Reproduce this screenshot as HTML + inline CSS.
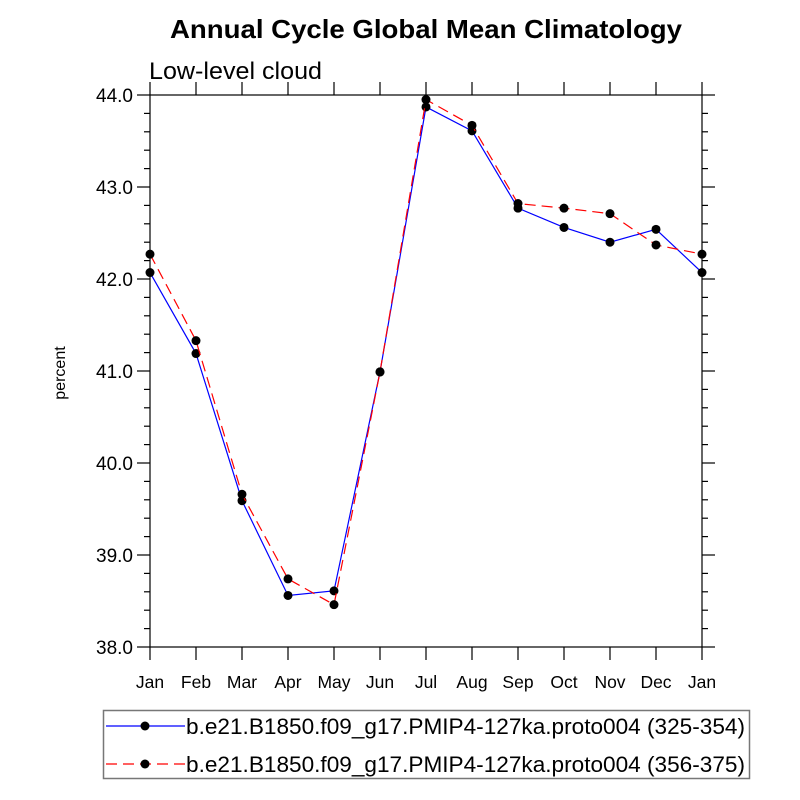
<!DOCTYPE html>
<html><head><meta charset="utf-8"><style>
body{margin:0;background:#fff}
svg{display:block;font-family:"Liberation Sans",Arial,sans-serif}
</style></head><body>
<svg id="chart" width="800" height="800" viewBox="0 0 800 800">
<text x="426" y="38" text-anchor="middle" font-size="26" font-weight="bold" textLength="512" lengthAdjust="spacingAndGlyphs">Annual Cycle Global Mean Climatology</text>
<text x="149" y="79" font-size="24" textLength="173" lengthAdjust="spacingAndGlyphs">Low-level cloud</text>
<text transform="translate(65,373) rotate(-90)" text-anchor="middle" font-size="16">percent</text>
<g id="axes"></g>
<g id="series"></g>
<g>
<rect x="103.5" y="710.5" width="646" height="68" fill="#fff" stroke="#777" stroke-width="1.5"/>
<g>
<line x1="106" y1="726" x2="185" y2="726" stroke="#0000ff" stroke-width="1.2"/>
<circle cx="145" cy="726" r="4.5" fill="#000"/>
<text x="186" y="734" font-size="22" textLength="559" lengthAdjust="spacingAndGlyphs">b.e21.B1850.f09_g17.PMIP4-127ka.proto004 (325-354)</text>
</g>
<g>
<line x1="106" y1="764" x2="185" y2="764" stroke="#ff0000" stroke-width="1.2" stroke-dasharray="11,6"/>
<circle cx="145" cy="764" r="4.5" fill="#000"/>
<text x="186" y="772" font-size="22" textLength="559" lengthAdjust="spacingAndGlyphs">b.e21.B1850.f09_g17.PMIP4-127ka.proto004 (356-375)</text>
</g>
</g>
</svg>
<script>
const months = ["Jan","Feb","Mar","Apr","May","Jun","Jul","Aug","Sep","Oct","Nov","Dec","Jan"];
const seriesA = [42.07,41.19,39.59,38.56,38.61,40.99,43.87,43.61,42.77,42.56,42.40,42.54,42.07];
const seriesB = [42.27,41.33,39.66,38.74,38.46,40.99,43.95,43.67,42.82,42.77,42.71,42.37,42.27];
const yTicks = [38.0,39.0,40.0,41.0,42.0,43.0,44.0];
const yMin = 38, yMax = 44;
const L=150,R=702,T=95,B=647;
const NS="http://www.w3.org/2000/svg";
function xs(i){return L+(R-L)*i/(months.length-1);}
function ys(v){return B-(B-T)*(v-yMin)/(yMax-yMin);}
function mk(tag,attrs,parent){const e=document.createElementNS(NS,tag);for(const k in attrs)e.setAttribute(k,attrs[k]);parent.appendChild(e);return e;}
const ax=document.getElementById('axes');
const frame=mk('rect',{x:L,y:T,width:R-L,height:B-T,fill:'none',stroke:'#000','stroke-width':1.2},ax);


months.forEach((m,i)=>{
  const x=xs(i);
  mk('line',{x1:x,y1:B,x2:x,y2:B+13,stroke:'#000','stroke-width':1.2},ax);
  mk('line',{x1:x,y1:T,x2:x,y2:T-13,stroke:'#000','stroke-width':1.2},ax);
  const t=mk('text',{x:x,y:B+41,'text-anchor':'middle','font-size':17.5},ax);
  t.textContent=m;
  
  
});
for(let v=yMin;v<=yMax+1e-9;v+=0.2){
  const y=ys(v);const major=Math.abs(v-Math.round(v))<1e-6;const len=major?13:6;
  mk('line',{x1:L-len,y1:y,x2:L,y2:y,stroke:'#000','stroke-width':1.2},ax);
  mk('line',{x1:R,y1:y,x2:R+len,y2:y,stroke:'#000','stroke-width':1.2},ax);
}
yTicks.forEach(v=>{
  const t=mk('text',{x:L-17,y:ys(v)+7,'text-anchor':'end','font-size':19},ax);
  t.textContent=v.toFixed(1);
  
  
});
const sg=document.getElementById('series');
function draw(vals,color,dash,name){
  const g=mk('g',{},sg);
  
  
  const pts=vals.map((v,i)=>xs(i)+','+ys(v)).join(' ');
  const a={points:pts,fill:'none',stroke:color,'stroke-width':1.2};
  if(dash)a['stroke-dasharray']=dash;
  mk('polyline',a,g);
  vals.forEach((v,i)=>{
    const c=mk('circle',{cx:xs(i),cy:ys(v),r:4.5,fill:'#000'},g);
    
    
  });
}
draw(seriesA,'#0000ff',null,'series-325-354');
draw(seriesB,'#ff0000','11,6','series-356-375');
</script>
</body></html>
